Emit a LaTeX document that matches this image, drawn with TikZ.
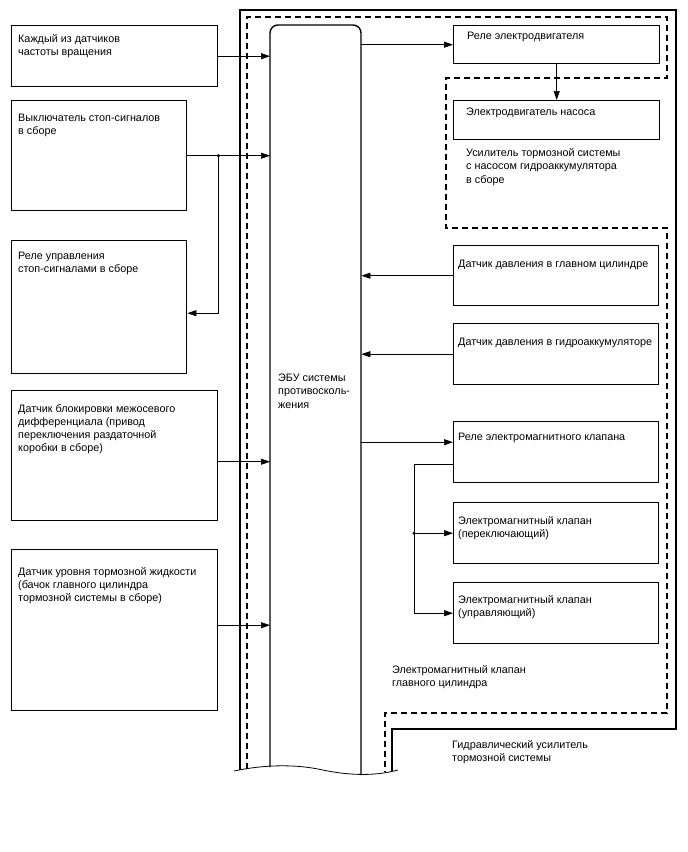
\documentclass[tikz,border=0pt]{standalone}
\usepackage{fontspec}
\setmainfont{Liberation Sans}
\usetikzlibrary{arrows.meta,positioning,calc}
\tikzset{
  blk/.style={rectangle,draw,line width=1.4pt,anchor=north west,inner sep=0pt},
  txt/.style={anchor=north west,inner sep=0pt,yshift=-1.5pt,align=left,font=\fontsize{10.8}{13.2}\selectfont},
  sig/.style={-{Triangle[length=9pt,width=6pt]},line width=0.7pt},
  wire/.style={line width=0.7pt},
  outer/.style={line width=1.4pt},
  grp/.style={line width=1.4pt,dash pattern=on 6pt off 4pt}
}

\begin{document}
\begin{tikzpicture}[x=1pt,y=-1pt]
\useasboundingbox (0,0) rectangle (688,852);
% boundaries
\draw[outer] (240,770) -- (240,10) -- (676,10) -- (676,729) -- (392,729) -- (392,771);
\draw[grp] (247,769) -- (247,17) -- (667,17) -- (667,78) -- (446,78) -- (446,228)
  -- (667,228) -- (667,713) -- (385,713) -- (385,772);
\draw[line width=0.8pt] (234,771) .. controls (262,765) and (292,764) .. (318,769)
  .. controls (345,775) and (372,777) .. (398,770);
% ecu
\node[anchor=north west,inner sep=0pt,minimum width=91pt,minimum height=745pt] (ecu) at (270,25) {};
\draw[outer,rounded corners=8pt] (270,767) -- (270,25) -- (361,25) -- (361,775);
\node[txt] (ecu-t) at (278,372.5) {ЭБУ системы\\противосколь-\\жения};
% left blocks
\node[blk,minimum width=206pt,minimum height=61pt] (kss) at (11,25) {};
\node[txt] (kss-t) at (18,33) {Каждый из датчиков\\частоты вращения};
\node[blk,minimum width=175pt,minimum height=110pt] (stopsw) at (11,100) {};
\node[txt] (stopsw-t) at (18,112) {Выключатель стоп-сигналов\\в сборе};
\node[blk,minimum width=175pt,minimum height=133pt] (stoprel) at (11,240) {};
\node[txt] (stoprel-t) at (18,250) {Реле управления\\стоп-сигналами в сборе};
\node[blk,minimum width=206pt,minimum height=130pt] (diffsens) at (11,390) {};
\node[txt] (diffsens-t) at (18,402.5) {Датчик блокировки межосевого\\дифференциала (привод\\переключения раздаточной\\коробки в сборе)};
\node[blk,minimum width=206pt,minimum height=161pt] (fluidsens) at (11,549) {};
\node[txt] (fluidsens-t) at (18,565.5) {Датчик уровня тормозной жидкости\\(бачок главного цилиндра\\тормозной системы в сборе)};
% right blocks
\node[blk,minimum width=206pt,minimum height=38pt] (motrel) at (453,25) {};
\node[txt] (motrel-t) at (467,30) {Реле электродвигателя};
\node[blk,minimum width=206pt,minimum height=39pt] (pump) at (453,100) {};
\node[txt] (pump-t) at (466,106.5) {Электродвигатель насоса};
\node[txt] (boost-t) at (466,147) {Усилитель тормозной системы\\с насосом гидроаккумулятора\\в сборе};
\node[blk,minimum width=205pt,minimum height=60pt] (mcpress) at (453,245) {};
\node[txt] (mcpress-t) at (458,258) {Датчик давления в главном цилиндре};
\node[blk,minimum width=205pt,minimum height=61pt] (accpress) at (453,323) {};
\node[txt] (accpress-t) at (458,336) {Датчик давления в гидроаккумуляторе};
\node[blk,minimum width=205pt,minimum height=61pt] (valrel) at (453,421) {};
\node[txt] (valrel-t) at (458,431.5) {Реле электромагнитного клапана};
\node[blk,minimum width=205pt,minimum height=61pt] (valsw) at (453,502) {};
\node[txt] (valsw-t) at (458,515) {Электромагнитный клапан\\(переключающий)};
\node[blk,minimum width=205pt,minimum height=61pt] (valctl) at (453,582) {};
\node[txt] (valctl-t) at (458,594) {Электромагнитный клапан\\(управляющий)};
\node[txt] (mcval-t) at (392,664) {Электромагнитный клапан\\главного цилиндра};
\node[txt] (hyd-t) at (452,739) {Гидравлический усилитель\\тормозной системы};
% inputs to ecu
\draw[sig] (kss.east) -- (kss.east -| ecu.west);
\draw[sig] (stopsw.east) -- (stopsw.east -| ecu.west);
\coordinate (jn) at (stopsw.east -| kss.east);
\fill (jn) circle (1.7pt);
\draw[sig] (jn) |- ([yshift=-6pt]stoprel.east);
\draw[sig] ([yshift=-6pt]diffsens.east) -- ([yshift=-6pt]diffsens.east -| ecu.west);
\draw[sig] ([yshift=5pt]fluidsens.east) -- ([yshift=5pt]fluidsens.east -| ecu.west);
% outputs of ecu
\draw[sig] (motrel.west -| ecu.east) -- (motrel.west);
\draw[sig] (motrel.south) -- (pump.north);
\draw[sig] (mcpress.west) -- (mcpress.west -| ecu.east);
\draw[sig] (accpress.west) -- (accpress.west -| ecu.east);
\draw[sig] ([yshift=10pt]valrel.west -| ecu.east) -- ([yshift=10pt]valrel.west);
\coordinate (vj) at ($(valsw.west)+(-39,0)$);
\draw[sig] ([yshift=-12.5pt]valrel.west) -| (vj |- valctl.west) -- (valctl.west);
\fill (vj) circle (1.7pt);
\draw[sig] (vj) -- (valsw.west);
\end{tikzpicture}
\end{document}
